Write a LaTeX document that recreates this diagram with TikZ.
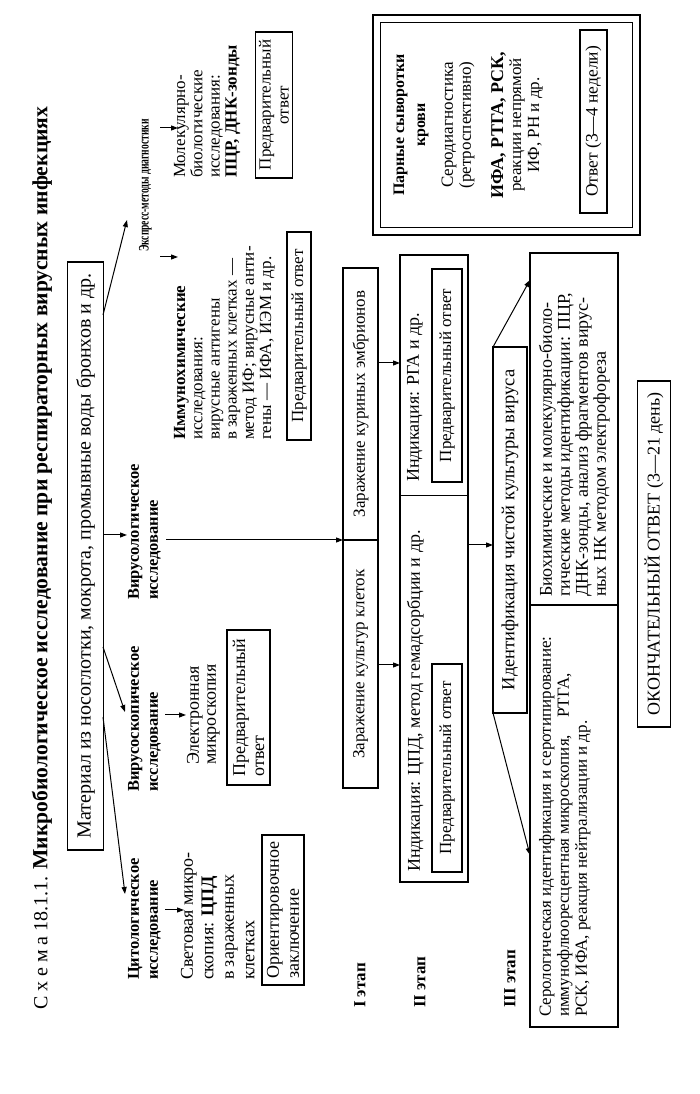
\documentclass[tikz,border=0pt]{standalone}
\usepackage{fontspec}
\setmainfont{Liberation Serif}
\usetikzlibrary{arrows.meta}
\tikzset{
  every node/.style={inner sep=0pt, outer sep=0pt},
  arr/.style={draw, line width=1pt, -{Triangle[length=7pt,width=5pt]}},
  plain/.style={draw, line width=1pt},
  bx/.style={draw, line width=1.2pt, inner sep=2pt, align=left, font=\fontsize{17}{19}\selectfont},
  cbx/.style={bx, align=center},
  lbl/.style={anchor=north west, align=left, font=\bfseries\fontsize{16.5}{19}\selectfont},
  body/.style={anchor=north west, align=left, font=\fontsize{18}{20.5}\selectfont},
  small/.style={anchor=north west, align=left, font=\fontsize{17}{17.2}\selectfont},
  stage/.style={anchor=west, font=\bfseries\fontsize{17}{19}\selectfont},
  dtext/.style={align=center, font=\fontsize{17}{18}\selectfont}
}
\begin{document}
\begin{tikzpicture}
\useasboundingbox (0pt,0pt) rectangle (700pt,1094pt);
\fill[white] (0pt,0pt) rectangle (700pt,1094pt);
\begin{scope}[rotate=90, transform shape, x=1pt, y=-1pt]
% title
\node[anchor=west, font=\fontsize{20}{22}\selectfont] (title) at (84,42)
  {С х е м а 18.1.1. {\bfseries\fontsize{21.6}{24}\selectfont Микробиологическое исследование при респираторных вирусных инфекциях}};
% material
\node[cbx, minimum width=588pt, minimum height=36pt, font=\fontsize{20}{22}\selectfont] (mat) at (538,85.5)
  {Материал из носоглотки, мокрота, промывные воды бронхов и др.};
% stage I labels
\node[lbl] (cyt) at (114,128) {Цитологическое\\исследование};
\node[lbl] (vsk) at (302,128) {Вирусоскопическое\\исследование};
\node[lbl] (vlg) at (494,128) {Вирусологическое\\исследование};
\node[lbl, font=\bfseries\fontsize{14.5}{17}\selectfont] (exp) at (842,139) {\scalebox{0.66}[1]{Экспресс-методы диагностики}};
% stage I contents
\node[body] (svet) at (114,181) {Световая микро-\\скопия: \textbf{ЦПД}\\в зараженных\\клетках};
\node[bx, minimum width=150pt, minimum height=42pt, font=\fontsize{18}{20}\selectfont] (orient) at (184,283) {Ориентировочное\\заключение};
\node[body, font=\fontsize{18}{17}\selectfont] (elec) at (329,187) {Электронная\\микроскопия};
\node[bx, minimum width=155pt, minimum height=43pt, font=\fontsize{18}{19}\selectfont] (pr1) at (386.5,248.5) {Предварительный\\ответ};
\node[small] (imm) at (654,174) {\textbf{Иммунохимические}\\исследования:\\вирусные антигены\\в зараженных клетках —\\метод ИФ; вирусные анти-\\гены — ИФА, ИЭМ и др.};
\node[cbx, minimum width=208pt, minimum height=24pt] (pr2) at (758,299) {Предварительный ответ};
\node[small] (mol) at (916,174) {Молекулярно-\\биологические\\исследования:\\\textbf{ПЦР, ДНК-зонды}};
\node[cbx, minimum width=146pt, minimum height=37pt, font=\fontsize{17}{18}\selectfont] (pr3) at (989,274) {Предварительный\\ответ};
% stage labels
\node[stage] (st1) at (86,360) {I этап};
\node[stage] (st2) at (86,420) {II этап};
\node[stage] (st3) at (86,510) {III этап};
% stage II
\node[cbx, minimum width=248pt, minimum height=35pt] (zk) at (430,360.5) {Заражение культур клеток};
\node[cbx, minimum width=272pt, minimum height=35pt] (ze) at (690,360.5) {Заражение куриных эмбрионов};
\node[bx, minimum width=627pt, minimum height=68pt] (ind) at (525.5,434) {};
\draw[plain] (598,400) -- (598,468);
\node[body] (ind1) at (222,407) {Индикация: ЦПД, метод гемадсорбции и др.};
\node[cbx, minimum width=208pt, minimum height=30pt] (pr4) at (326,447) {Предварительный ответ};
\node[body] (ind2) at (612,407) {Индикация: РГА и др.};
\node[cbx, minimum width=213pt, minimum height=30pt] (pr5) at (718.5,447) {Предварительный ответ};
% stage III
\node[cbx, minimum width=366pt, minimum height=34pt, font=\fontsize{18.5}{20}\selectfont] (ident) at (564,510) {Идентификация чистой культуры вируса};
\node[bx, minimum width=422pt, minimum height=88pt] (sero) at (278,574) {};
\node[small, font=\fontsize{17}{18}\selectfont] (serot) at (77,539) {Серологическая идентификация и серотипирование:\\иммунофлюоресцентная микроскопия,\quad РТГА,\\РСК, ИФА, реакция нейтрализации и др.};
\node[bx, minimum width=352pt, minimum height=88pt] (bio) at (665,574) {};
\node[small, font=\fontsize{18}{18}\selectfont] (biot) at (497,539) {Биохимические и молекулярно-биоло-\\гические методы идентификации: ПЦР,\\ДНК-зонды, анализ фрагментов вирус-\\ных НК методом электрофореза};
\node[cbx, minimum width=346pt, minimum height=33pt, font=\fontsize{18}{19}\selectfont] (final) at (540,654) {ОКОНЧАТЕЛЬНЫЙ ОТВЕТ (3—21 день)};
% double box
\node[draw, line width=2.4pt, minimum width=220pt, minimum height=267pt] (dbl) at (969,506.5) {};
\node[draw, line width=0.9pt, minimum width=205pt, minimum height=252pt] (dbli) at (969,506.5) {};
\node[dtext, font=\bfseries\fontsize{16}{21}\selectfont] (ds1) at (969,411) {Парные сыворотки\\крови};
\node[dtext] (ds2) at (969,458) {Серодиагностика\\(ретроспективно)};
\node[dtext] (ds3) at (969,517) {{\bfseries\fontsize{18}{18}\selectfont ИФА, РТГА, РСК,}\\реакции непрямой\\ИФ, РН и др.};
\node[cbx, minimum width=183pt, minimum height=27pt, font=\fontsize{17.5}{19}\selectfont] (ds4) at (972.5,593.5) {Ответ (3—4 недели)};
% connectors
\coordinate (m1) at (377,103); \coordinate (c1) at (200,125);
\coordinate (m2) at (447,103); \coordinate (c2) at (382,125);
\coordinate (m3) at (559,103); \coordinate (c3) at (559,127);
\coordinate (m4) at (779,103); \coordinate (c4) at (874,127);
\draw[arr] (m1) -- (c1);
\draw[arr] (m2) -- (c2);
\draw[arr] (m3) -- (c3);
\draw[arr] (m4) -- (c4);
\coordinate (s1a) at (184,165); \coordinate (s1b) at (184,184);
\draw[arr] (s1a) -- (s1b);
\coordinate (s2a) at (379,165); \coordinate (s2b) at (379,186);
\draw[arr] (s2a) -- (s2b);
\coordinate (s3a) at (554,166);
\draw[arr] (s3a) -- (zk.north east);
\coordinate (s4a) at (837,160); \coordinate (s4b) at (837,178);
\draw[arr] (s4a) -- (s4b);
\coordinate (s5a) at (966,160); \coordinate (s5b) at (966,178);
\draw[arr] (s5a) -- (s5b);
\coordinate (z1) at (429,378); \coordinate (z1b) at (429,400);
\draw[arr] (z1) -- (z1b);
\coordinate (z2) at (731,378); \coordinate (z2b) at (731,400);
\draw[arr] (z2) -- (z2b);
\coordinate (i1) at (549,468); \coordinate (i1b) at (549,493);
\draw[arr] (i1) -- (i1b);
\coordinate (se) at (239,530); \coordinate (bi) at (814,530);
\draw[arr] (ident.north west) -- (se);
\draw[arr] (ident.north east) -- (bi);
\end{scope}
\end{tikzpicture}
\end{document}
